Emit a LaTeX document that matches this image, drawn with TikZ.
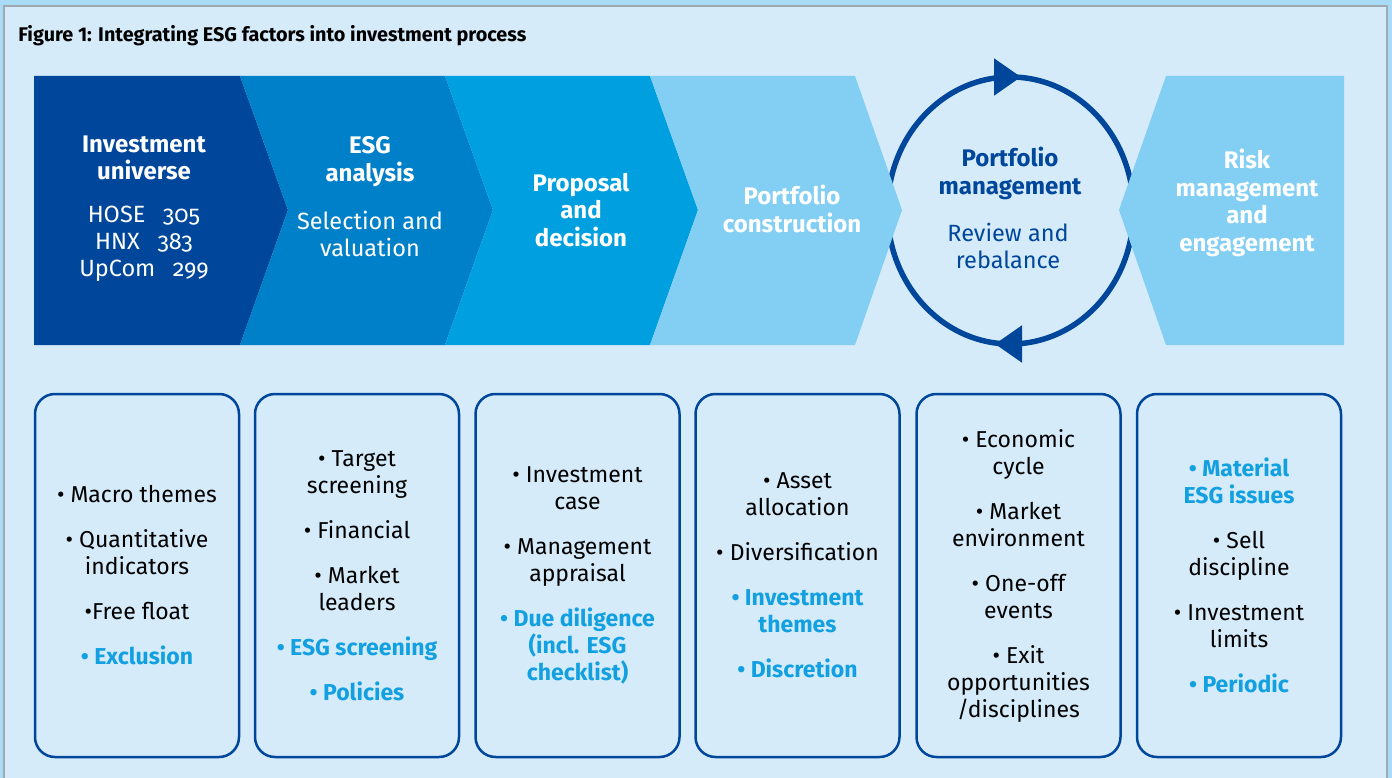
\documentclass[tikz,border=0pt]{standalone}
\usepackage{fontspec}
\setmainfont{Fira Sans}
\newfontfamily\oldnum{Fira Sans}[RawFeature={+onum}]
\usetikzlibrary{arrows.meta,positioning}

\definecolor{stripblue}{HTML}{A9DBF7}
\definecolor{panelblue}{HTML}{D5EBFA}
\definecolor{framegray}{HTML}{9FA9B2}
\definecolor{stepone}{HTML}{00479B}
\definecolor{steptwo}{HTML}{0080C8}
\definecolor{stepthree}{HTML}{009FE0}
\definecolor{stepfour}{HTML}{82CFF3}
\definecolor{esgcyan}{HTML}{13A0E0}

\newcommand{\bl}{\textbullet\ }
\newcommand{\hi}[1]{{\color{esgcyan}\bfseries #1}}

\tikzset{
  every picture/.style={line width=0.75pt},
  headtext/.style={text=white, align=center, font=\fontsize{24}{27.5}\selectfont\bfseries},
  subtext/.style={text=white, align=center, font=\fontsize{23.5}{27}\selectfont},
  infobox/.style={draw=stepone, line width=2.5pt, rounded corners=20pt,
    minimum width=204pt, minimum height=363pt, inner sep=0pt,
    align=center, font=\fontsize{23}{27}\selectfont},
}

\begin{document}
\begin{tikzpicture}[x=1pt, y=-1pt]
    \useasboundingbox (0,0) rectangle (1392,778);

    % 背景和边框
    \fill[stripblue] (0,0) rectangle (1392,778);
    \fill[panelblue] (4,6) rectangle (1387,778);
    \draw[framegray, line width=1.8pt] (4,778) -- (4,6) -- (1387,6) -- (1387,778);

    % 标题
    \node[anchor=base west, inner sep=0pt, font=\fontsize{19.8}{23}\selectfont\bfseries] (title) at (18,42)
        {Figure 1: Integrating ESG factors into investment process};

    % 循环
    \draw[stepone, line width=5.5pt] (1010.5,210.5) ellipse [x radius=123pt, y radius=133.5pt];
    \draw[stepone, line width=5.5pt, -{Triangle[length=27pt, width=36pt]}] (1008,77) -- (1021,77);
    \draw[stepone, line width=5.5pt, -{Triangle[length=27pt, width=36pt]}] (1008,344) -- (995,344);

    % 箭头形步骤
    \fill[stepone] (34,76) -- (240,76) -- (288,210) -- (240,345) -- (34,345) -- cycle;
    \fill[steptwo] (240,76) -- (445,76) -- (493,210) -- (445,345) -- (240,345) -- (288,210) -- cycle;
    \fill[stepthree] (445,76) -- (650,76) -- (698,210) -- (650,345) -- (445,345) -- (493,210) -- cycle;
    \fill[stepfour] (650,76) -- (855,76) -- (902,210) -- (855,345) -- (650,345) -- (698,210) -- cycle;
    \fill[stepfour] (1166,76) -- (1344,76) -- (1344,345) -- (1166,345) -- (1119,210) -- cycle;

    % 步骤文字
    \node[headtext] (univ) at (144,158) {Investment\\universe};
    \node[subtext] (listing) at (144,244)
        {HOSE\hspace{0.75em}{\oldnum 305}\\HNX\hspace{0.75em}{\oldnum 383}\\UpCom\hspace{0.75em}{\oldnum 299}};
    \node[headtext] (esg) at (370,161.5) {ESG\\analysis};
    \node[subtext] (select) at (370,233.5) {Selection and\\valuation};
    \node[headtext] (propose) at (581,210) {Proposal\\and\\decision};
    \node[headtext] (construct) at (792,209) {Portfolio\\construction};
    \node[headtext, text=stepone] (manage) at (1010,173.5) {Portfolio\\management};
    \node[subtext, text=stepone] (review) at (1008,246) {Review and\\rebalance};
    \node[headtext] (risk) at (1247,203) {Risk\\management\\and\\engagement};

    % 下方方框
    \node[infobox] (box1) at (137,575.5)
        {\bl Macro themes\\[18pt]\bl Quantitative\\indicators\\[18pt]\textbullet Free float\\[18pt]\hi{\bl Exclusion}};
    \node[infobox] (box2) at (357,575.5)
        {\bl Target\\screening\\[18pt]\bl Financial\\[18pt]\bl Market\\leaders\\[18pt]\hi{\bl ESG screening}\\[18pt]\hi{\bl Policies}};
    \node[infobox] (box3) at (577.5,575.5)
        {\bl Investment\\case\\[18pt]\bl Management\\appraisal\\[18pt]\hi{\bl Due diligence}\\\hi{(incl. ESG}\\\hi{checklist)}};
    \node[infobox] (box4) at (797.5,575.5)
        {\bl Asset\\allocation\\[18pt]\bl Diversification\\[18pt]\hi{\bl Investment}\\\hi{themes}\\[18pt]\hi{\bl Discretion}};
    \node[infobox] (box5) at (1018.5,575.5)
        {\bl Economic\\cycle\\[18pt]\bl Market\\environment\\[18pt]\bl One-off\\events\\[18pt]\bl Exit\\opportunities\\/disciplines};
    \node[infobox] (box6) at (1239,575.5)
        {\hi{\bl Material}\\\hi{ESG issues}\\[18pt]\bl Sell\\discipline\\[18pt]\bl Investment\\limits\\[18pt]\hi{\bl Periodic}};
\end{tikzpicture}
\end{document}
